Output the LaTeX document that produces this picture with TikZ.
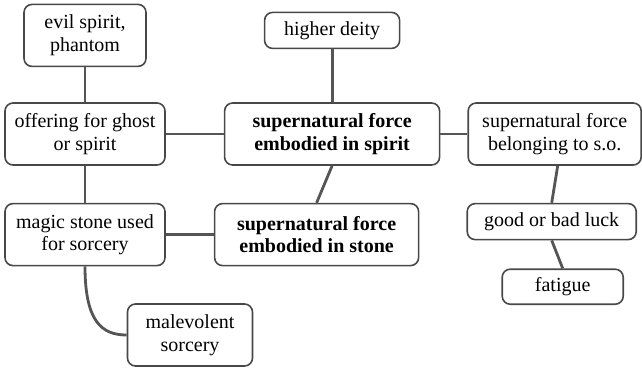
\documentclass[tikz,border=0pt]{standalone}
\usepackage{fontspec}
\setmainfont{Liberation Serif}
\usetikzlibrary{positioning}
\definecolor{boxline}{HTML}{484848}
\definecolor{linkline}{HTML}{555555}

\begin{document}
\begin{tikzpicture}[x=1pt,y=1pt,
  box/.style={draw=boxline, line width=1.6pt, rounded corners=8pt,
    align=center, inner sep=1pt, minimum height=62pt,
    font=\fontsize{20}{22.5}\selectfont},
  flat/.style={box, minimum height=36pt},
  link/.style={draw=linkline, line width=2.8pt}]
  \useasboundingbox (0,0) rectangle (642,-368);
  % left column
  \node[box, minimum width=160pt] (offering) at (85,-134) {offering for ghost\\or spirit};
  \node[box, minimum width=122pt] (evil) [above=35pt of offering] {evil spirit,\\phantom};
  \node[box, minimum width=160pt] (magic) [below=37pt of offering] {magic stone used\\for sorcery};
  \node[box, minimum width=125pt] (malevolent) at (190,-335) {malevolent\\sorcery};
  % middle
  \node[box, minimum width=215pt] (spirit) [right=58pt of offering] {\textbf{supernatural force}\\\textbf{embodied in spirit}};
  \node[flat, minimum width=135pt] (deity) [above=53pt of spirit] {higher deity};
  \node[box, minimum width=204pt] (stone) [right=48pt of magic] {\textbf{supernatural force}\\\textbf{embodied in stone}};
  % right
  \node[box, minimum width=173pt] (belonging) [right=27pt of spirit] {supernatural force\\belonging to s.o.};
  \node[flat, minimum width=169pt] (luck) [below=37pt of belonging, xshift=-3pt] {good or bad luck};
  \node[flat, minimum width=121pt, minimum height=35pt] (fatigue) [below=28pt of luck, xshift=11pt] {fatigue};

  \draw[link] (evil) -- (offering);
  \draw[link] (offering) -- (spirit);
  \draw[link] (deity) -- (spirit);
  \draw[link] (spirit) -- (belonging);
  \draw[link] (spirit.south) -- (stone.north);
  \draw[link] (offering) -- (magic);
  \draw[link] (magic) -- (stone);
  \draw[link] (magic.south) .. controls +(0,-55) and +(-25,0) .. (malevolent.west);
  \draw[link] ([xshift=3pt]belonging.south) -- (luck.north);
  \draw[link] (luck.south) -- (fatigue.north);
\end{tikzpicture}
\end{document}
